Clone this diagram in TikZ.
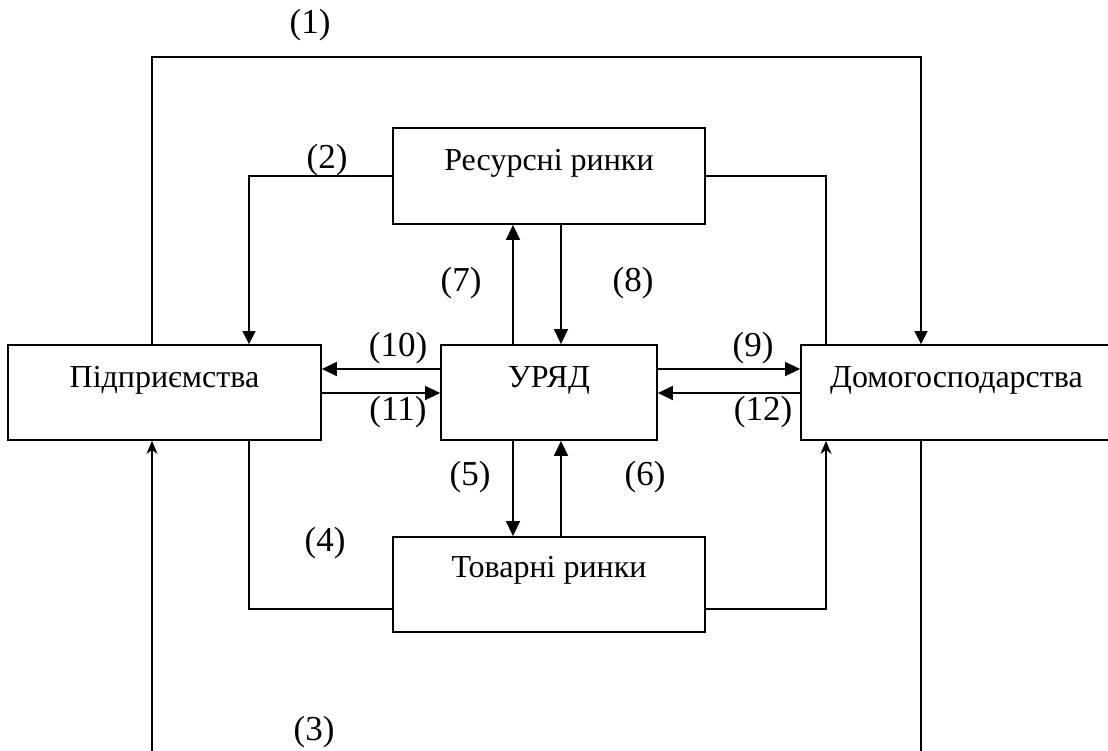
\documentclass[tikz,border=0pt]{standalone}
\usepackage{fontspec}
\setmainfont{Liberation Serif}
\usetikzlibrary{arrows.meta}
\begin{document}
\begin{tikzpicture}[x=1pt,y=-1pt,
  box/.style={draw,line width=1.8pt,rectangle,inner sep=0pt},
  txt/.style={font=\fontsize{32}{38}\selectfont,inner sep=0pt},
  lbl/.style={font=\fontsize{35}{40}\selectfont,inner sep=0pt},
  ln/.style={line width=1.5pt},
  arr/.style={ln,-{Triangle[length=15pt,width=14pt]}},
  arrs/.style={ln,-{Triangle[length=13pt,width=13pt]}},
  arrt/.style={ln,-{Stealth[length=13pt,width=11pt,inset=4pt]}}]
\useasboundingbox (0,0) rectangle (1108,751);
% boxes
\node[box,minimum width=313pt,minimum height=95pt] (firm) at (164.5,392.5) {};
\node[box,minimum width=216pt,minimum height=95pt] (gov) at (549,392.5) {};
\node[box,minimum width=330pt,minimum height=95pt] (house) at (966,392.5) {};
\node[box,minimum width=312pt,minimum height=96pt] (res) at (549,176) {};
\node[box,minimum width=312pt,minimum height=95pt] (goods) at (549,584.5) {};
% box texts
\node[txt] (tfirm) at (164.5,380) {Підприємства};
\node[txt] (tgov) at (549,380) {УРЯД};
\node[txt] (thouse) at (956.5,380) {Домогосподарства};
\node[txt] (tres) at (549,163) {Ресурсні ринки};
\node[txt] (tgoods) at (549,570) {Товарні ринки};
% helper coordinates
\coordinate (xL) at (152,0);
\coordinate (x249) at (249,0);
\coordinate (x513) at (513,0);
\coordinate (x561) at (561,0);
\coordinate (x826) at (826,0);
\coordinate (xR) at (921,0);
\coordinate (top) at (536,57);
\coordinate (y369) at (0,369);
\coordinate (y393) at (0,393);
\coordinate (y609) at (0,609);
\coordinate (bL) at (152,751);
\coordinate (bR) at (921,751);
% (1)
\draw[arrs] (firm.north -| xL) |- (top) -| (house.north -| xR);
% (2)
\draw[arrs] (res.west) -| (firm.north -| x249);
\draw[ln] (res.east) -| (house.north -| x826);
% (3)
\draw[arrt] (bL) -- (firm.south -| xL);
\draw[ln] (house.south -| xR) -- (bR);
% (4)
\draw[ln] (firm.south -| x249) |- (goods.west |- y609);
\draw[arrt] (goods.east |- y609) -| (house.south -| x826);
% (5)-(8)
\draw[arr] (gov.south -| x513) -- (goods.north -| x513);
\draw[arr] (goods.north -| x561) -- (gov.south -| x561);
\draw[arr] (gov.north -| x513) -- (res.south -| x513);
\draw[arr] (res.south -| x561) -- (gov.north -| x561);
% (9)-(12)
\draw[arr] (gov.west |- y369) -- (firm.east |- y369);
\draw[arr] (firm.east |- y393) -- (gov.west |- y393);
\draw[arr] (gov.east |- y369) -- (house.west |- y369);
\draw[arr] (house.west |- y393) -- (gov.east |- y393);
% labels
\node[lbl] (l1) at (310,25) {(1)};
\node[lbl] (l2) at (327,160) {(2)};
\node[lbl] (l3) at (314,732) {(3)};
\node[lbl] (l4) at (325,543) {(4)};
\node[lbl] (l5) at (470,477) {(5)};
\node[lbl] (l6) at (645,477) {(6)};
\node[lbl] (l7) at (461,283) {(7)};
\node[lbl] (l8) at (633,283) {(8)};
\node[lbl] (l9) at (753,348) {(9)};
\node[lbl] (l10) at (398,348) {(10)};
\node[lbl] (l11) at (398,412) {(11)};
\node[lbl] (l12) at (763,412) {(12)};
\end{tikzpicture}
\end{document}
